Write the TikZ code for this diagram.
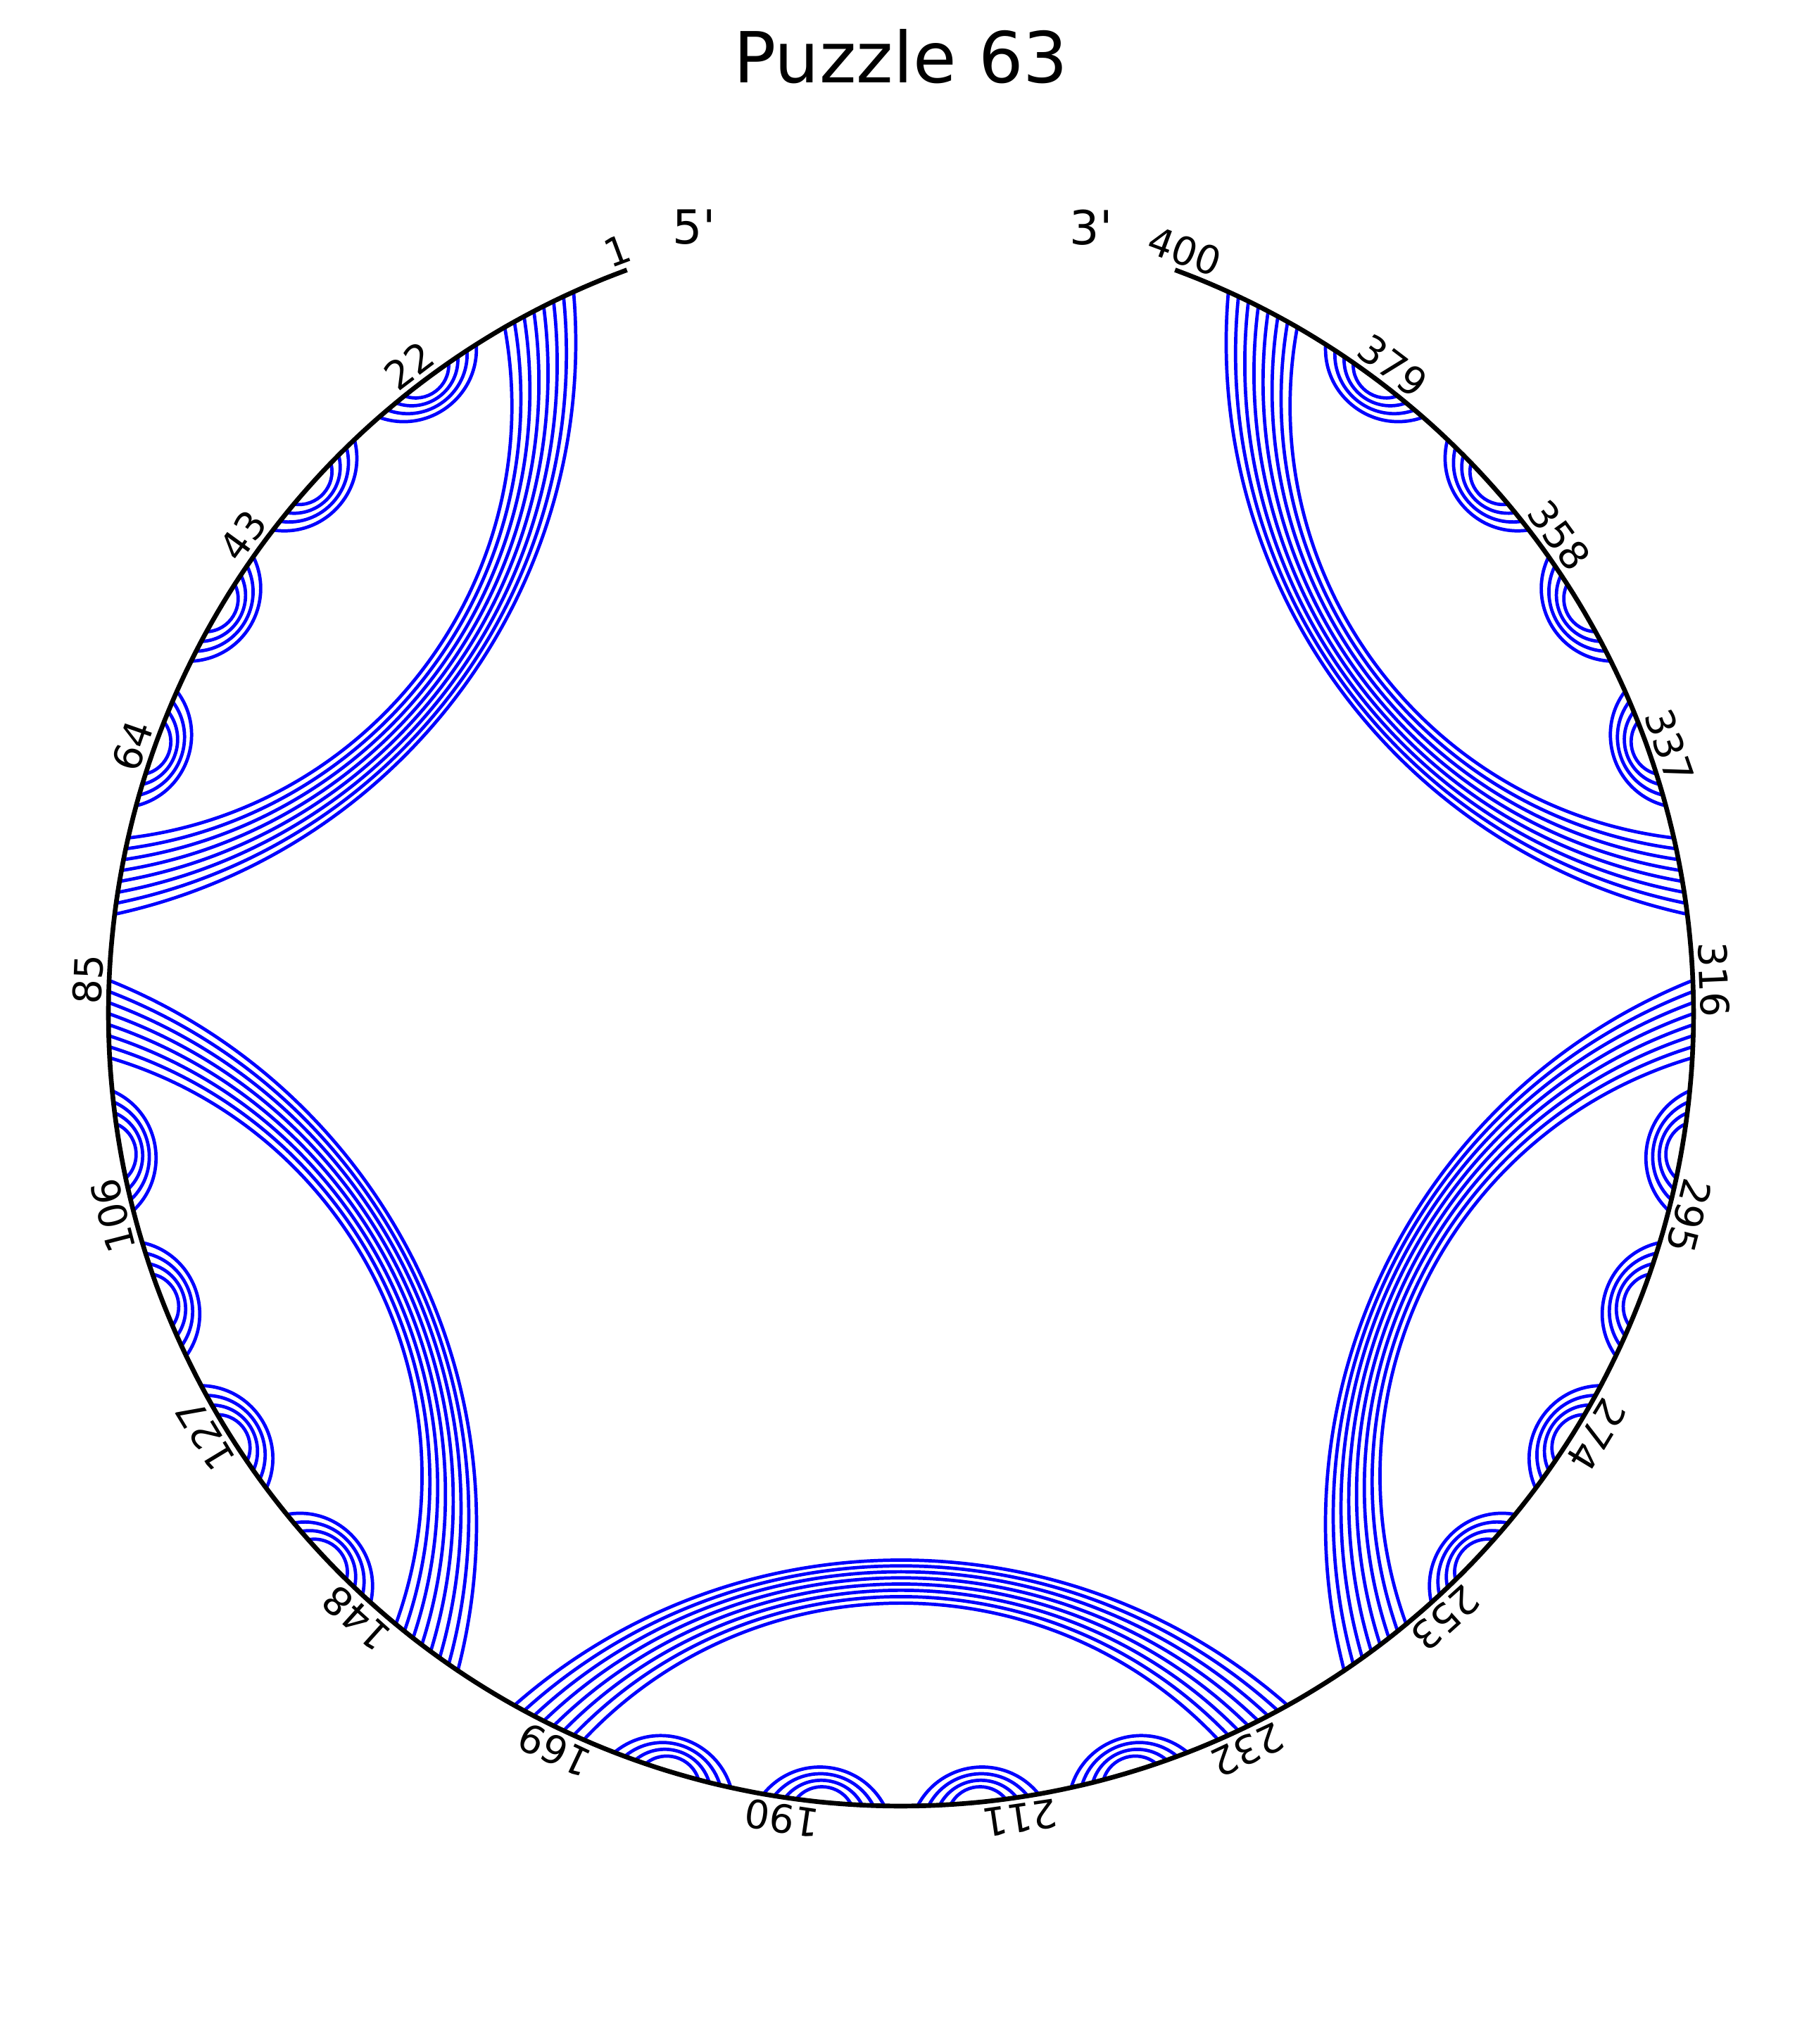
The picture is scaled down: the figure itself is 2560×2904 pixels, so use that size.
\documentclass[tikz,border=0pt]{standalone}
\usepackage{fontspec}
\setmainfont{DejaVu Sans}
\tikzset{
  backbone/.style={black, line width=1.2pt, line join=round, line cap=rect},
  pairline/.style={blue, line width=0.85pt},
  poslabel/.style={inner sep=0pt, font=\fontsize{10}{12}\selectfont},
  endlabel/.style={inner sep=0pt, font=\fontsize{12}{14}\selectfont},
  titlelabel/.style={inner sep=0pt, anchor=base, font=\fontsize{18}{22}\selectfont},
}
% arc between positions #1 < #2 (circular arc bulging inward)
\newcommand\drawpairarc[2]{%
  \pgfmathsetmacro\pdd{0.8*(#2-#1)}%
  \pgfmathsetmacro\pph{57-0.0046*\pdd*\pdd}%
  \pgfmathsetmacro\pls{0.8514/(cos(\pph/2)^2)}%
  \draw[pairline] (p#1) to[bend left=\pph, looseness=\pls] (p#2);%
}
\begin{document}
\begin{tikzpicture}[x=0.18pt, y=0.18pt]
\useasboundingbox (-1280,-1464) rectangle (1280,1440);
% nucleotide positions on the circle
\foreach \k in {1,...,400}{
  \pgfmathsetmacro\pang{110.4+0.8*(\k-1)}
  \coordinate (p\k) at (\pang:1126);
}
% base pairs
\foreach \u in {6,85,164,243,322}{
  \foreach \t in {0,...,7}{
    \pgfmathtruncatemacro\pi{\u+\t}
    \pgfmathtruncatemacro\pj{\u+73-\t}
    \drawpairarc{\pi}{\pj}
  }
  \foreach \o in {10,24,38,52}{
    \foreach \t in {0,...,3}{
      \pgfmathtruncatemacro\pi{\u+\o+\t}
      \pgfmathtruncatemacro\pj{\u+\o+11-\t}
      \drawpairarc{\pi}{\pj}
    }
  }
}
% backbone
\draw[backbone] (p1) \foreach \k in {2,...,400}{ -- (p\k)};
% position labels
\foreach \k in {1,22,...,400}{
  \pgfmathsetmacro\pang{110.4+0.8*(\k-1)}
  \pgfmathsetmacro\prot{\pang-90}
  \node[poslabel, rotate=\prot] (l\k) at (\pang:1156) {\k};
}
% ends and title
\node[endlabel] (five) at (-294,1117) {5\textquotesingle};
\node[endlabel] (three) at (270,1117) {3\textquotesingle};
\node[titlelabel] (title) at (0,1323) {Puzzle 63};
\end{tikzpicture}
\end{document}
